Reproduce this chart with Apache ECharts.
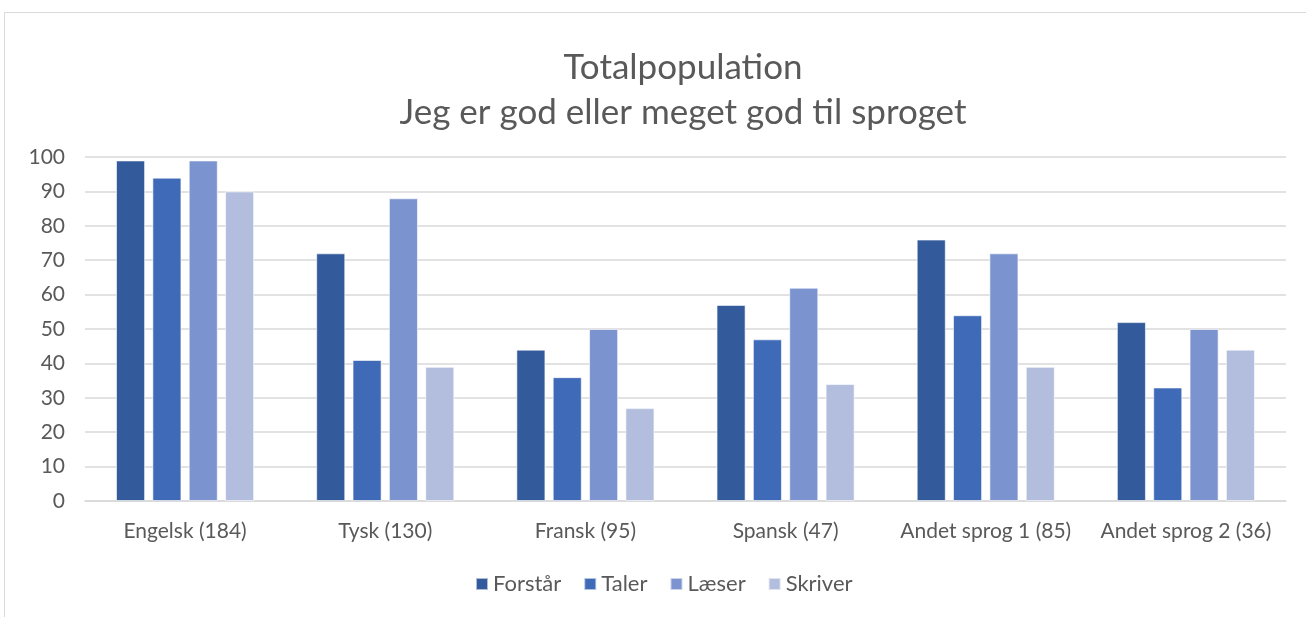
<!DOCTYPE html>
<html>
<head>
<meta charset="utf-8">
<script src="https://cdn.jsdelivr.net/npm/echarts@6/dist/echarts.min.js"></script>
<style>
  html, body { margin: 0; padding: 0; background: #fff; }
  #frame { position: absolute; left: 4px; top: 12px; width: 1320px; height: 640px; border: 1px solid #d9d9d9; }
  #chart { position: absolute; left: 0; top: 0; width: 1306px; height: 617px; }
</style>
</head>
<body>
<div id="frame"></div>
<div id="chart"></div>
<script>
const categories = ['Engelsk (184)', 'Tysk (130)', 'Fransk (95)', 'Spansk (47)', 'Andet sprog 1 (85)', 'Andet sprog 2 (36)']
const seriesNames = ['Forstår', 'Taler', 'Læser', 'Skriver']
const forstaar = [99, 72, 44, 57, 76, 52]
const taler = [94, 41, 36, 47, 54, 33]
const laeser = [99, 88, 50, 62, 72, 50]
const skriver = [90, 39, 27, 34, 39, 44]
const colors = ['#335a9a', '#3f6ab8', '#7b93cf', '#b3bedf']
const titleText = 'Totalpopulation\nJeg er god eller meget god til sproget'

const font = 'Lato, "Open Sans", sans-serif'
const myChart = echarts.init(document.getElementById('chart'))

const seriesData = [forstaar, taler, laeser, skriver]
const option = {
  color: colors,
  // the original frame is wider than the window, so the title sits right of centre
  graphic: [
    {
      type: 'text',
      x: 683,
      y: 45,
      style: {
        text: titleText,
        align: 'center',
        verticalAlign: 'top',
        font: '35px ' + font,
        lineHeight: 45,
        fill: '#595959'
      }
    }
  ],
  legend: {
    bottom: 17,
    left: 470,
    itemWidth: 12,
    itemHeight: 12,
    itemGap: 22,
    icon: 'rect',
    textStyle: { fontFamily: font, fontSize: 22, color: '#595959' },
    data: seriesNames
  },
  grid: { left: 85, right: 20, top: 157, bottom: 116 },
  xAxis: {
    type: 'category',
    data: categories,
    axisLine: { lineStyle: { color: '#d9d9d9', width: 1.5 } },
    axisTick: { show: false },
    axisLabel: { fontFamily: font, fontSize: 21, color: '#595959', margin: 20, interval: 0 }
  },
  yAxis: {
    type: 'value',
    min: 0,
    max: 100,
    interval: 10,
    axisLine: { show: false },
    axisTick: { show: false },
    axisLabel: { fontFamily: font, fontSize: 21, color: '#595959', margin: 20 },
    splitLine: { lineStyle: { color: '#d9d9d9', width: 1.5 } }
  },
  series: seriesNames.map((name, i) => ({
    name: name,
    type: 'bar',
    data: seriesData[i],
    barGap: '25%',
    barCategoryGap: '31%',
    itemStyle: { borderColor: 'rgba(255,255,255,0.6)', borderWidth: 1 }
  }))
}
myChart.setOption(option)
</script>
</body>
</html>
